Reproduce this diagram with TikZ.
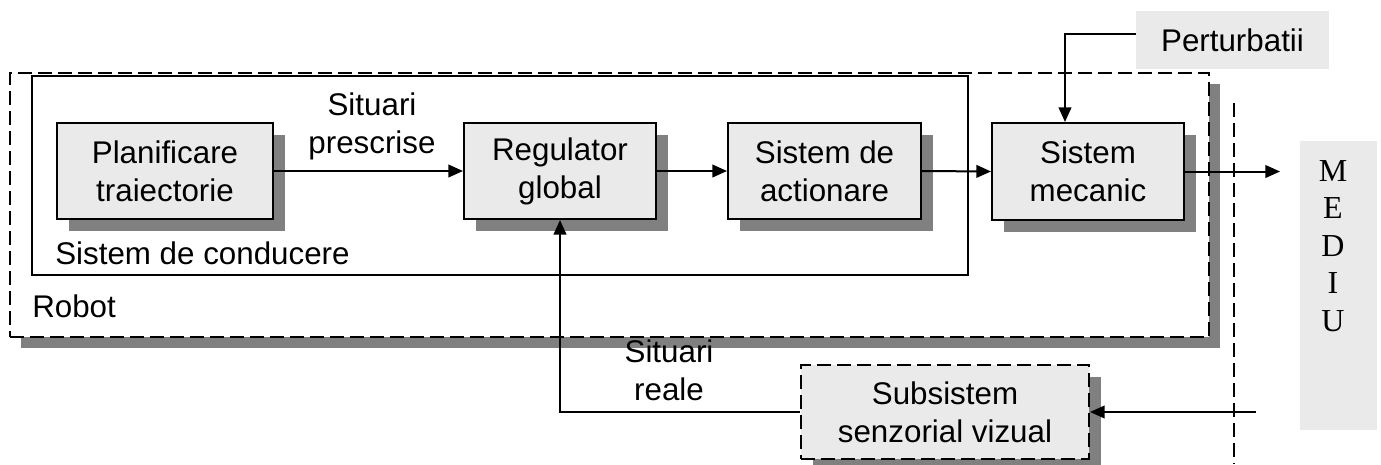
\documentclass[tikz,border=0pt]{standalone}
\usepackage{fontspec}
\setmainfont{Liberation Sans}
\newfontfamily\mediufont{Liberation Serif}
\usetikzlibrary{arrows.meta,shadows,fit,calc}
\definecolor{boxfill}{HTML}{EAEAEA}
\definecolor{shgray}{HTML}{808080}
\begin{document}
\begin{tikzpicture}[x=0.75pt,y=-0.75pt,
  txt/.style={font=\fontsize{23.5}{28.5}\selectfont, align=center, inner sep=0},
  lw/.style={line width=1.5pt},
  dsh/.style={dash pattern=on 10.5pt off 4.5pt},
  sz/.style 2 args={minimum width=#1*0.75pt, minimum height=#2*0.75pt},
  shad/.style={general shadow={fill=shgray, shadow xshift=#1, shadow yshift=-#1}},
  blk/.style={draw, lw, fill=boxfill, inner sep=0, txt, shad=9pt},
  flat/.style={fill=boxfill, inner sep=0},
  arr/.style={lw, -{Triangle[length=11pt,width=9.5pt]}}]
\useasboundingbox (0,0) rectangle (1381,464);
% robot frame
\node[draw, lw, dsh, fill=white, inner sep=0, shad=8.25pt, fit={(10,73) (1209,337)}] (robot) {};
\node[draw, lw, inner sep=0, fit={(32,76) (968,275)}] (cond) {};
\node[txt, anchor=base west] (condlbl) at (55,264) {Sistem de conducere};
\node[txt, anchor=base west] (robotlbl) at (32,317) {Robot};
% blocks
\node[blk, sz={216}{96}] (plan) at (165,171) {Planificare\\traiectorie};
\node[blk, sz={192}{96}] (reg) at (560,171) {Regulator\\global};
\node[blk, sz={193}{96}] (act) at (824.5,171) {Sistem de\\actionare};
\node[blk, sz={192}{97}] (mec) at (1088,171.5) {Sistem\\mecanic};
\node[blk, dsh, sz={288}{94}] (sub) at (945,412) {Subsistem\\senzorial vizual};
\node[flat, txt, sz={193}{58}] (pert) at (1232.5,40) {Perturbatii};
\node[flat, fit={(1300,141) (1377,430)}] (mediu) {};
\node[inner sep=0, anchor=north, align=center, font=\mediufont\fontsize{24}{28.1}\selectfont] (mediulbl) at (1333,160) {M\\E\\D\\I\\U};
% labels
\node[txt, anchor=north] (presc) at (372,93) {Situari\\prescrise};
\node[txt, anchor=north] (reale) at (669,340) {Situari\\reale};
% environment boundary
\coordinate (envtop) at (1234,103);
\coordinate (envbot) at (1234,464);
\draw[lw, dsh] (envtop) -- (envbot);
% connectors
\draw[arr] (plan.east) -- (reg.west);
\draw[arr] (reg.east) -- (act.west);
\draw[arr] (act.east) -- (mec.west);
\coordinate (medin) at (1280,173);
\draw[arr] (mec.east) -- (mec.east -| medin);
\coordinate (envin) at (1256,412);
\draw[arr] (envin) -- (sub.east);
\draw[arr] (sub.west) -| (reg.south);
\draw[arr] ($(pert.west)+(0,-6)$) -| ($(mec.north)+(-23,0)$);
\end{tikzpicture}
\end{document}
